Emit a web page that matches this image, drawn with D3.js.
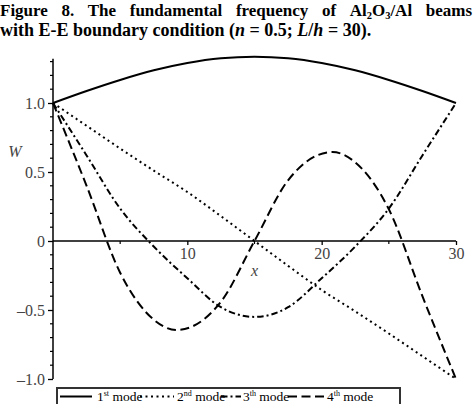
<!DOCTYPE html>
<html><head><meta charset="utf-8">
<script src="https://cdn.jsdelivr.net/npm/d3@7"></script>
<style>
html,body{margin:0;padding:0;background:#fff;}
svg{display:block;}
svg text{font-family:"Liberation Serif","Times New Roman",serif !important;}
</style></head>
<body>
<svg id="chart" width="474" height="404"></svg>
<script>
// ---- data ----
const xs = [0, 2.5, 5, 7.5, 10, 12.5, 15, 17.5, 20, 22.5, 25, 27.5, 30];
const mode1 = [1, 1.087, 1.167, 1.237, 1.29, 1.324, 1.335, 1.324, 1.29, 1.237, 1.167, 1.087, 1];
const mode2 = [1, 0.835, 0.67, 0.51, 0.355, 0.18, 0, -0.18, -0.355, -0.51, -0.67, -0.835, -1];
const mode3 = [1, 0.62, 0.235, -0.04, -0.27, -0.48, -0.55, -0.48, -0.27, -0.04, 0.235, 0.62, 1];
const xs4 = [0, 2.5, 5, 7.5, 9.2, 12.5, 15, 17.5, 20.8, 22.5, 25, 27.5, 30];
const mode4 = [1, 0.40, -0.23, -0.57, -0.645, -0.44, 0, 0.44, 0.645, 0.57, 0.23, -0.40, -1];
const xTicks = [10, 20, 30];
const xTickLabels = ["10", "20", "30"];
const xMinorTicks = [5, 15, 25];
const yTicks = [1.0, 0.5, 0, -0.5, -1.0];
const yTickLabels = ["1.0", "0.5", "0", "\u20130.5", "\u20131.0"];
const yMinorTicks = [1.3, 1.2, 1.1, 0.9, 0.8, 0.7, 0.6, 0.4, 0.3, 0.2, 0.1, -0.1, -0.2, -0.3, -0.4, -0.6, -0.7, -0.8, -0.9];
const legendNames = [["1", "st", " mode"], ["2", "nd", " mode"], ["3", "th", " mode"], ["4", "th", " mode"]];
const titleLine1 = ["Figure", "8.", "The", "fundamental", "frequency", "of", "Al2O3/Al", "beams"];

const svg = d3.select("#chart");
const x = d3.scaleLinear().domain([0, 30]).range([53, 456]);
const y = d3.scaleLinear().domain([-1, 1]).range([379, 103]);
const yTop = 1.32;

// ---- title ----
const tg = svg.append("g").attr("font-weight", "bold").attr("fill", "#000");
const words = titleLine1.map(w => {
  const t = tg.append("text").attr("y", 15.5).attr("font-size", 17);
  if (w === "Al2O3/Al") {
    t.append("tspan").text("Al");
    t.append("tspan").attr("font-size", 10.5).attr("dy", 3).text("2");
    t.append("tspan").attr("dy", -3).text("O");
    t.append("tspan").attr("font-size", 10.5).attr("dy", 3).text("3");
    t.append("tspan").attr("dy", -3).text("/Al");
  } else t.text(w);
  return t;
});
const widths = words.map(t => t.node().getComputedTextLength());
const gap = (472 - d3.sum(widths)) / (words.length - 1);
let cx = 0;
words.forEach((t, i) => { t.attr("x", cx); cx += widths[i] + gap; });
const l2 = tg.append("text").attr("x", 0).attr("y", 35.5).attr("font-size", 18);
l2.append("tspan").text("with E-E boundary condition (");
l2.append("tspan").attr("font-style", "italic").text("n");
l2.append("tspan").text(" = 0.5; ");
l2.append("tspan").attr("font-style", "italic").text("L");
l2.append("tspan").text("/");
l2.append("tspan").attr("font-style", "italic").text("h");
l2.append("tspan").text(" = 30).");

// ---- axes ----
const axisColor = "#000";
const labelColor = "#444";
const yAxis = d3.axisLeft(y).tickValues(yTicks).tickSize(5).tickPadding(3)
  .tickFormat((d, i) => yTickLabels[i]);
const yg = svg.append("g").attr("transform", `translate(${x(0)},0)`).call(yAxis);
yg.select(".domain").remove();
yg.append("line").attr("x1", 0).attr("x2", 0).attr("y1", y(-1)).attr("y2", y(yTop))
  .attr("stroke", axisColor).attr("stroke-width", 1.5);
yg.selectAll(".tick line").attr("stroke", axisColor).attr("stroke-width", 1.3);
yg.selectAll(".tick text").attr("fill", labelColor).attr("font-size", 16);
yg.selectAll(".minor").data(yMinorTicks).enter().append("line")
  .attr("x1", 0).attr("x2", -3).attr("y1", d => y(d)).attr("y2", d => y(d))
  .attr("stroke", axisColor).attr("stroke-width", 1.2);

const xAxis = d3.axisBottom(x).tickValues(xTicks).tickSize(4).tickPadding(3)
  .tickFormat((d, i) => xTickLabels[i]);
const xg = svg.append("g").attr("transform", `translate(0,${y(0)})`).call(xAxis);
xg.select(".domain").remove();
xg.append("line").attr("x1", x(0)).attr("x2", x(30)).attr("y1", 0).attr("y2", 0)
  .attr("stroke", axisColor).attr("stroke-width", 1.5);
xg.selectAll(".tick line").attr("stroke", axisColor).attr("stroke-width", 1.3);
xg.selectAll(".tick text").attr("fill", labelColor).attr("font-size", 16);
xg.selectAll(".minor").data(xMinorTicks).enter().append("line")
  .attr("x1", d => x(d)).attr("x2", d => x(d)).attr("y1", 0).attr("y2", 3)
  .attr("stroke", axisColor).attr("stroke-width", 1.2);

svg.append("text").attr("x", x(15)).attr("y", 276).attr("text-anchor", "middle")
  .attr("font-style", "italic").attr("font-size", 16).attr("fill", labelColor).text("x");
svg.append("text").attr("x", 15).attr("y", 157).attr("text-anchor", "middle")
  .attr("font-style", "italic").attr("font-size", 16).attr("fill", labelColor).text("W");

// ---- curves ----
const styles = [
  {dash: null, w: 2},
  {dash: "2,3.5", w: 2},
  {dash: "6.5,3,2,3", w: 2},
  {dash: "9,4.5", w: 2}
];
const series = [
  xs.map((v, i) => [v, mode1[i]]),
  xs.map((v, i) => [v, mode2[i]]),
  xs.map((v, i) => [v, mode3[i]]),
  xs4.map((v, i) => [v, mode4[i]])
];
const line = d3.line().x(d => x(d[0])).y(d => y(d[1])).curve(d3.curveMonotoneX);
series.forEach((s, i) => {
  svg.append("path").datum(s).attr("d", line).attr("fill", "none")
    .attr("stroke", "#000").attr("stroke-width", styles[i].w)
    .attr("stroke-dasharray", styles[i].dash);
});

// ---- legend ----
const lg = svg.append("g");
lg.append("rect").attr("x", 57).attr("y", 388).attr("width", 343).attr("height", 24)
  .attr("fill", "none").attr("stroke", "#333").attr("stroke-width", 2);
const legPos = [[60, 92, 97], [140, 174, 177], [221, 241, 243], [288, 325, 327]];
legendNames.forEach((n, i) => {
  const p = legPos[i];
  lg.append("line").attr("x1", p[0]).attr("x2", p[1]).attr("y1", 396.5).attr("y2", 396.5)
    .attr("stroke", "#000").attr("stroke-width", 2).attr("stroke-dasharray", styles[i].dash);
  const t = lg.append("text").attr("x", p[2]).attr("y", 401).attr("font-size", 13.5).attr("fill", "#000");
  t.append("tspan").text(n[0]);
  t.append("tspan").attr("font-size", 8).attr("dy", -5).text(n[1]);
  t.append("tspan").attr("dy", 5).text(n[2]);
});
</script>
</body></html>
